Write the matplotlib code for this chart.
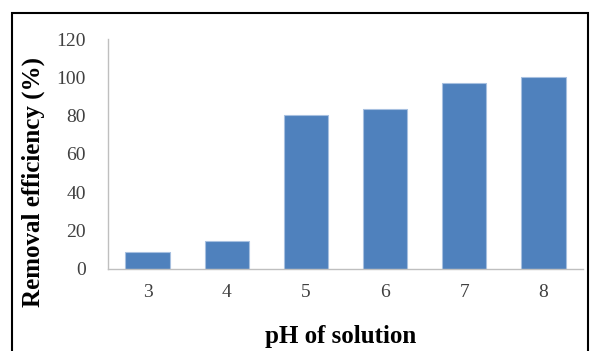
import matplotlib.pyplot as plt
from matplotlib.patches import Rectangle

# pH vs removal efficiency
ph_values = ["3", "4", "5", "6", "7", "8"]
removal = [8.6, 14.3, 80.5, 83.2, 96.8, 100.2]

plt.rcParams['font.family'] = ['Liberation Serif', 'DejaVu Serif']

W, H = 590, 351
fig = plt.figure(figsize=(W / 100, H / 100), dpi=100)
ax = fig.add_axes([108 / W, 1 - 268.7 / H, (583 - 108) / W, (268.7 - 39) / H])

x = range(len(ph_values))
ax.bar(x, removal, width=0.56, color='#4f81bd', edgecolor='#a7c0e0', linewidth=0.8)

ax.set_xlim(-0.5, len(ph_values) - 0.5)
ax.set_ylim(0, 120)
ax.set_yticks(range(0, 121, 20))
ax.set_xticks(list(x))
ax.set_xticklabels(ph_values)
ax.tick_params(length=0, labelsize=14, colors='#404040')
ax.tick_params(axis='y', pad=16)
ax.tick_params(axis='x', pad=11)

for side in ['top', 'right']:
    ax.spines[side].set_visible(False)
for side in ['left', 'bottom']:
    ax.spines[side].set_color('#bfbfbf')
    ax.spines[side].set_linewidth(1)

fig.text(33 / W, 1 - 182 / H, "Removal efficiency (%)", rotation=90,
         ha='center', va='center', fontsize=18, fontweight='bold')
fig.text(341 / W, 1 - 337 / H, "pH of solution",
         ha='center', va='center', fontsize=18, fontweight='bold')

# outer frame
fig.patches.append(Rectangle((12 / W, -0.1), (588 - 12) / W, 1.1 - 13 / H,
                             transform=fig.transFigure, fill=False,
                             edgecolor='black', linewidth=1.5))

fig.savefig("out.png", dpi=100)
